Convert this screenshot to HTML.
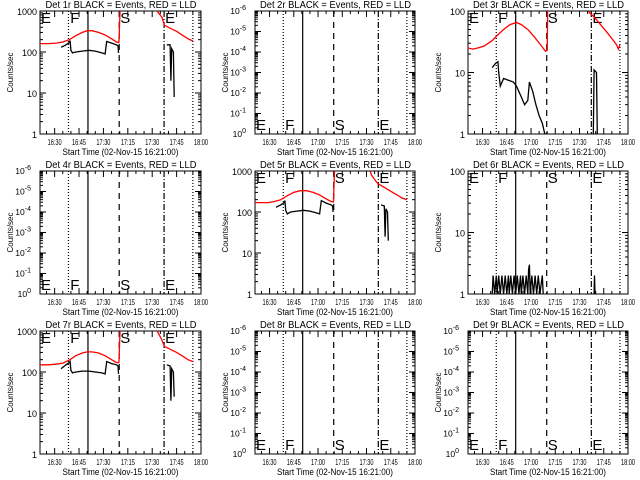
<!DOCTYPE html>
<html><head><meta charset="utf-8"><style>
html,body{margin:0;padding:0;background:#fff;}
svg{display:block;font-family:"Liberation Sans",sans-serif;}
</style></head><body>
<svg id="c" width="640" height="480" viewBox="0 0 640 480" xmlns="http://www.w3.org/2000/svg"></svg>
<script>
const xTickTimes=[9,24,39,54,69,84,99];
const xTickLabels=["16:30","16:45","17:00","17:15","17:30","17:45","18:00"];
const markerTimes=[17.5,29.5,48.7,76.3,94];
const markerStyles=["1,2","","6,5","6,2,1,2","1,2"];
const markerLetters=["E","F","S","E"];
const markerLetterTimes=[0,18,48.7,76.3];
const detNames=["1r","2r","3r","4r","5r","6r","7r","8r","9r"];
const panelMax=[1000,null,100,null,1000,100,1000,null,null];
const red1=[[0,160],[5,160],[10,165],[14,175],[18,200],[22,250],[26,300],[29,330],[32,330],[36,300],[40,260],[44,210],[47,175],[48.5,170],[49,600],[49.4,1500],null,[70,1500],[72,1000],[75,700],[76.5,450],[80,380],[84,320],[88,250],[91,210],[94,185]];
const black1=[[13,130],[16,150],[18,170],[18.5,190],[19,110],[20,95],[22,100],[26,105],[30,110],[34,105],[38,95],[40,90],[41,180],[44,165],[47,150],[48,140],[48.3,95],null,[78,150],[80,150],[80.5,20],[81,120],[82,100],[82.5,8]];
const red3=[[0,25],[3,24],[6,25],[10,27],[15,33],[18,40],[22,50],[26,60],[30,65],[33,60],[37,50],[41,38],[45,28],[48,22],[49,23],[49.4,150],null,[72,150],[75,95],[78,80],[82,60],[86,45],[90,33],[92,28],[93,24],[94,28]];
const black3=[[15,12],[17,14],[18.5,15],[19,10],[20,6],[22,8],[25,7.5],[28,7],[30,6],[33,4],[35,3],[37,3.5],[38,7],[40,5],[42,3],[44,2],[46,1.5],[47.5,1]],black3b=[[77.5,1],[78,11],[79.5,10],[80,1]];
const red5=[[0,170],[8,170],[12,180],[16,200],[20,250],[24,300],[28,330],[32,330],[36,300],[40,260],[44,210],[47,180],[48.5,175],[49,600],[49.4,1500],null,[70,1500],[72,800],[75,550],[76.5,480],[80,400],[84,320],[88,260],[91,220],[94,200]];
const black5=[[13,130],[16,150],[18,170],[18.5,190],[19,110],[20,90],[22,100],[26,105],[30,110],[34,105],[38,95],[40,90],[41,190],[44,165],[47,150],[48,140],[48.3,100],null,[78,150],[80,140],[80.5,25],[81,120],[82,100],[82.5,20]];
const red6=[[0,105],[6,105]];
const black6=[[15,1],[15.5,2],[16.5,1],[17.5,2],[18,1],[19,2],[20,1],[21,2],[22,1],[23,2],[24,1],[25,2],[25.5,1],[26.5,2],[27.5,1],[28.5,2],[29.5,1],[30.5,2],[31.5,1],[32.5,2],[33,1],[34,2],[35,1],[36,2],[37,1],[37.5,2.5],[38,3],[38.5,1],[39.5,2],[40.5,1],[41.5,2],[42.5,1],[43.5,2],[44.5,1],[46,2],[46.5,1],null,[78,1],[78.3,2],[78.6,1]];
const red7=[[0,150],[5,150],[10,155],[14,165],[18,195],[22,250],[26,290],[29,310],[32,310],[36,290],[40,250],[44,200],[47,170],[48.5,170],[49,600],[49.4,1500],null,[70,1500],[72,1000],[75,600],[76.5,420],[80,360],[84,300],[88,240],[91,200],[94,180]];
const black7=[[13,120],[16,150],[18,170],[18.5,180],[19,110],[20,95],[22,100],[26,105],[30,105],[34,100],[38,95],[40,90],[41,180],[44,160],[47,150],[48,140],[48.3,90],null,[78,150],[80,140],[80.5,20],[81,120],[82,100],[82.5,25]];
const redSeries=[red1,null,red3,null,red5,red6,red7,null,null];
const blackSeries=[[black1],null,[black3,black3b],null,[black5],[black6],[black7],null,null];

const NS="http://www.w3.org/2000/svg";
const svg=document.getElementById('c');
function mk(tag,attrs,parent){const e=document.createElementNS(NS,tag);for(const k in attrs)e.setAttribute(k,attrs[k]);(parent||svg).appendChild(e);return e;}
const colLeft=[40,255,468],colRight=[201,415,628],rowTop=[11,171,331],H=123;

for(let i=0;i<9;i++){
  const r=Math.floor(i/3),c=i%3;
  const L=colLeft[c],R=colRight[c],T=rowTop[r],B=T+H;
  const g=mk('g',{});
  
  
  const xs=t=>L+(t/99)*(R-L);
  const max=panelMax[i];
  const decades=max?Math.log10(max):6;
  const ys=v=>B-(Math.log10(v)/decades)*(B-T);
  const cp=mk('clipPath',{id:'cp'+i},g);mk('rect',{x:L,y:T,width:R-L,height:H},cp);
  const title=mk('text',{x:(L+R)/2-75,y:T-3,'font-size':'10',textLength:151,lengthAdjust:'spacingAndGlyphs'},g);
  title.textContent='Det '+detNames[i]+' BLACK = Events, RED = LLD';
  
  
  const frame=mk('rect',{x:L,y:T,width:R-L,height:H,fill:'none',stroke:'#000','stroke-width':1},g);
  
  
  for(let m=0;m<=99;m+=5){const x=xs(m+4);if(m+4>99)break;const major=xTickTimes.indexOf(m+4)>=0;
    mk('line',{x1:x,x2:x,y1:B,y2:B-(major?6:3),stroke:'#000'},g);mk('line',{x1:x,x2:x,y1:T,y2:T+(major?6:3),stroke:'#000'},g);}
  xTickTimes.forEach((t,k)=>{const tx=mk('text',{x:xs(t)-7,y:B+11,'font-size':'8',textLength:14,lengthAdjust:'spacingAndGlyphs'},g);
    tx.textContent=(c===0&&k===2)?'17:30':xTickLabels[k];
    
    });
  const xl=mk('text',{x:(L+R)/2-58,y:B+21,'font-size':'9.5',textLength:116,lengthAdjust:'spacingAndGlyphs'},g);
  xl.textContent='Start Time (02-Nov-15 16:21:00)';
  
  
  const yl=mk('text',{x:0,y:0,'text-anchor':'middle','font-size':'8',transform:`translate(${L-27},${(T+B)/2}) rotate(-90)`},g);
  yl.textContent='Counts/sec';
  
  
  if(max){
    for(let d=0;d<decades;d++)for(let k=1;k<=10;k++){const v=Math.pow(10,d)*k;const y=ys(v);const mj=k===1||k===10;
      mk('line',{x1:L,x2:L+(mj?6:3),y1:y,y2:y,stroke:'#000'},g);mk('line',{x1:R,x2:R-(mj?6:3),y1:y,y2:y,stroke:'#000'},g);}
    for(let d=0;d<=decades;d++){const t=mk('text',{x:L-3,y:ys(Math.pow(10,d))+4,'text-anchor':'end','font-size':'9'},g);
      t.textContent=String(Math.pow(10,d));
      
      }
  } else {
    for(let d=0;d<6;d++)for(let k=1;k<=10;k++){const y=B-(d+Math.log10(k))/6*H;const mj=k===1||k===10;
      mk('line',{x1:L,x2:L+(mj?6:3),y1:y,y2:y,stroke:'#000'},g);mk('line',{x1:R,x2:R-(mj?6:3),y1:y,y2:y,stroke:'#000'},g);}
    for(let d=0;d<=6;d++){const t=mk('text',{x:L-9,y:B-d/6*H+3,'text-anchor':'end','font-size':'8.5'},g);
      t.textContent='10';const s=mk('tspan',{dy:'-4','font-size':'7'},t);s.textContent=d===0?'0':'-'+d;
      
      }
  }
  markerTimes.forEach((t,k)=>{const a={x1:xs(t),x2:xs(t),y1:T,y2:B,stroke:'#000','stroke-width':1.2};if(markerStyles[k])a['stroke-dasharray']=markerStyles[k];
    const ln=mk('line',a,g);});
  const top=!!max;
  markerLetterTimes.forEach((t,k)=>{const tx=mk('text',{x:xs(t)+1,y:top?T+12:B-4,'font-size':'15'},g);tx.textContent=markerLetters[k];
    });
  function path(data,color,name){if(!data)return;let d='',pen=false;
    data.forEach(p=>{if(!p){pen=false;return;}d+=(pen?'L':'M')+xs(p[0]).toFixed(1)+','+ys(p[1]).toFixed(1);pen=true;});
    const e=mk('path',{d:d,fill:'none',stroke:color,'stroke-width':1.3,'clip-path':`url(#cp${i})`},g);
    }
  if(max){
    path(redSeries[i],'#f00','lld-rate-line');
    (blackSeries[i]||[]).forEach(s=>path(s,'#000','event-rate-line'));
  }
}
</script>
</body></html>
